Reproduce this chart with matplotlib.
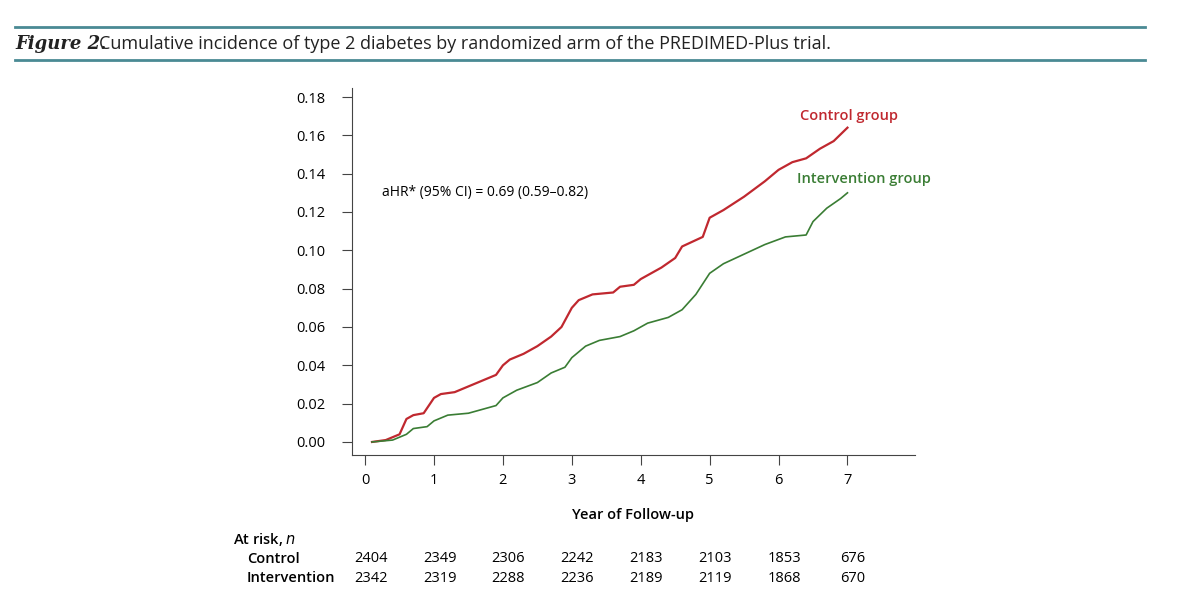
import matplotlib.pyplot as plt
from matplotlib.lines import Line2D

plt.rcParams['font.family'] = ['Open Sans', 'DejaVu Sans']

# --- Data ---
ctrl_t = [0.1, 0.3, 0.5, 0.6, 0.7, 0.85, 1.0, 1.1, 1.3, 1.5, 1.7, 1.9, 2.0, 2.1, 2.3, 2.5,
          2.7, 2.85, 3.0, 3.1, 3.3, 3.6, 3.7, 3.9, 4.0, 4.3, 4.5, 4.6, 4.9, 5.0, 5.2, 5.5,
          5.8, 6.0, 6.2, 6.4, 6.6, 6.8, 7.0]
ctrl_y = [0.0, 0.001, 0.004, 0.012, 0.014, 0.015, 0.023, 0.025, 0.026, 0.029, 0.032, 0.035,
          0.040, 0.043, 0.046, 0.050, 0.055, 0.060, 0.070, 0.074, 0.077, 0.078, 0.081, 0.082,
          0.085, 0.091, 0.096, 0.102, 0.107, 0.117, 0.121, 0.128, 0.136, 0.142, 0.146, 0.148,
          0.153, 0.157, 0.164]
int_t = [0.1, 0.4, 0.6, 0.7, 0.9, 1.0, 1.2, 1.5, 1.7, 1.9, 2.0, 2.2, 2.5, 2.7, 2.9, 3.0,
         3.2, 3.4, 3.7, 3.9, 4.1, 4.4, 4.6, 4.8, 5.0, 5.2, 5.5, 5.8, 6.1, 6.4, 6.5, 6.7, 6.9, 7.0]
int_y = [0.0, 0.001, 0.004, 0.007, 0.008, 0.011, 0.014, 0.015, 0.017, 0.019, 0.023, 0.027,
         0.031, 0.036, 0.039, 0.044, 0.050, 0.053, 0.055, 0.058, 0.062, 0.065, 0.069, 0.077,
         0.088, 0.093, 0.098, 0.103, 0.107, 0.108, 0.115, 0.122, 0.127, 0.130]
years = [0, 1, 2, 3, 4, 5, 6, 7]
risk_ctrl = [2404, 2349, 2306, 2242, 2183, 2103, 1853, 676]
risk_int = [2342, 2319, 2288, 2236, 2189, 2119, 1868, 670]

RED = '#c0282f'
GREEN = '#3a7d34'
TEAL = '#4a8a94'

fig = plt.figure(figsize=(12, 5.99), dpi=100)

# header rules and caption
for yy in (1 - 27 / 599, 1 - 60 / 599):
    fig.add_artist(Line2D([15 / 1200, 1145 / 1200], [yy, yy], color=TEAL, lw=2))
fig.text(15 / 1200, 1 - 44 / 599, 'Figure 2.', fontsize=13, va='center',
         family='DejaVu Serif', style='italic', fontweight='bold', color='#222222')
fig.text(99 / 1200, 1 - 44 / 599, 'Cumulative incidence of type 2 diabetes by randomized arm of the PREDIMED-Plus trial.',
         fontsize=13, va='center', color='#222222')

ax = fig.add_axes([352 / 1200, 1 - 455 / 599, (915 - 352) / 1200, (455 - 88) / 599])
ax.plot(ctrl_t, ctrl_y, color=RED, lw=1.6)
ax.plot(int_t, int_y, color=GREEN, lw=1.2)
ax.set_xlim(-0.19, 7.98)
ax.set_ylim(-0.0068, 0.1847)
ax.set_xticks(years)
ax.set_yticks([i * 0.02 for i in range(10)])
ax.set_yticklabels([f'{i * 0.02:.2f}' for i in range(10)])
for s in ('top', 'right'):
    ax.spines[s].set_visible(False)
for s in ('left', 'bottom'):
    ax.spines[s].set_color('#444444')
ax.tick_params(direction='out', length=7, color='#444444', labelsize=10.5, pad=6)
ax.tick_params(axis='y', pad=12)
ax.set_xlabel('Year of Follow-up', fontsize=10.5, fontweight='semibold', labelpad=14)

ax.text(6.31, 0.170, 'Control group', color=RED, fontsize=10.5, fontweight='semibold', ha='left', va='center')
ax.text(6.27, 0.137, 'Intervention group', color=GREEN, fontsize=10.5, fontweight='semibold', ha='left', va='center')
ax.text(0.25, 0.130, 'aHR* (95% CI) = 0.69 (0.59–0.82)', fontsize=10, ha='left', va='center')

# at-risk table
trans = ax.get_xaxis_transform()
fig.text(233 / 1200, 1 - 540 / 599, r'At risk, $\it{n}$', fontsize=10.5, fontweight='semibold', va='center')
fig.text(247 / 1200, 1 - 559 / 599, 'Control', fontsize=10.5, fontweight='semibold', va='center')
fig.text(247 / 1200, 1 - 578 / 599, 'Intervention', fontsize=10.5, fontweight='semibold', va='center')
yc = (455 - 559) / 367
yi = (455 - 578) / 367
for x, a, b in zip(years, risk_ctrl, risk_int):
    ax.text(x + 0.08, yc, str(a), transform=trans, ha='center', va='center', fontsize=10.5, clip_on=False)
    ax.text(x + 0.08, yi, str(b), transform=trans, ha='center', va='center', fontsize=10.5, clip_on=False)

fig.savefig('out.png', dpi=100)
